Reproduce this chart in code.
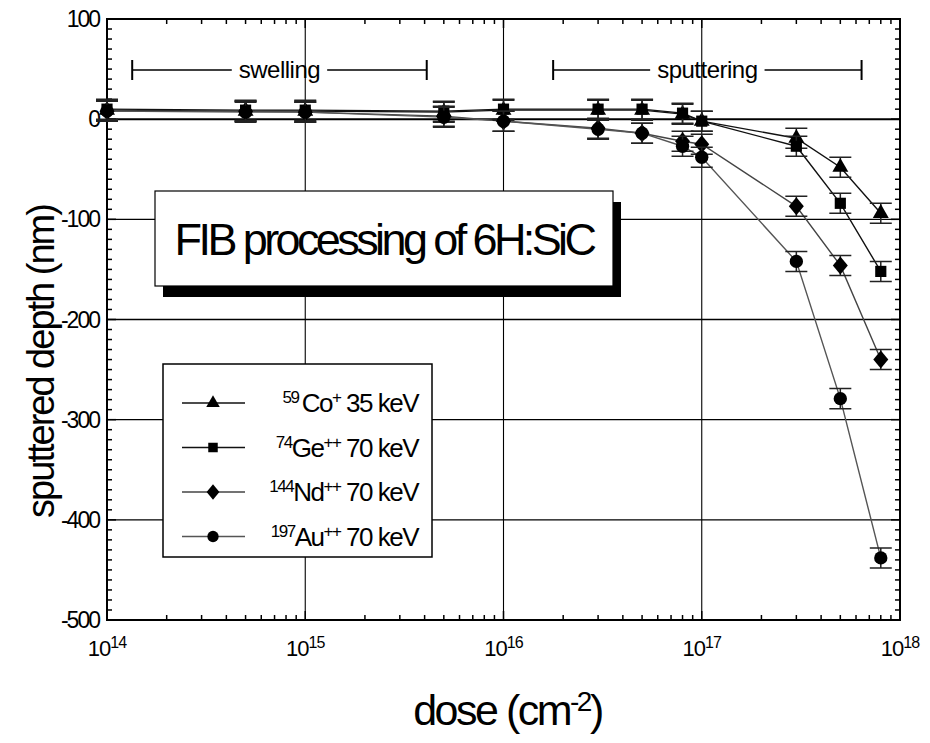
<!DOCTYPE html>
<html>
<head>
<meta charset="utf-8">
<script src="https://cdn.jsdelivr.net/npm/d3@7"></script>
<style>
  body { margin: 0; background: #fff; }
  svg { font-family: 'Liberation Sans', Arial, sans-serif; }
</style>
</head>
<body>
<div id="chart"></div>
<script>
// dose values (cm^-2)
const doses = [1e14, 5e14, 1e15, 5e15, 1e16, 3e16, 5e16, 8e16, 1e17, 3e17, 5e17, 8e17];

// sputtered depth (nm) per ion
const coDepth = [9, 8, 8, 7, 9, 9, 9, 5, -2, -19, -48, -94];
const geDepth = [10, 9, 9, 8, 10, 10, 10, 6, -2, -27, -84, -152];
const ndDepth = [8, 8, 7, 3, -2, -9, -14, -22, -25, -87, -146, -240];
const auDepth = [8, 7, 7, 2, -2, -10, -14, -27, -38, -142, -279, -438];
const depthError = 10;

const yTicks = [100, 0, -100, -200, -300, -400, -500];
const xTicks = [1e14, 1e15, 1e16, 1e17, 1e18];

const series = [
	{ mass: '59', ion: 'Co', charge: '+', energy: '35 keV', values: coDepth, symbol: d3.symbolTriangle, size: 110, lineColor: '#111' },
	{ mass: '74', ion: 'Ge', charge: '++', energy: '70 keV', values: geDepth, symbol: d3.symbolSquare, size: 125, lineColor: '#111' },
	{ mass: '144', ion: 'Nd', charge: '++', energy: '70 keV', values: ndDepth, symbol: 'diamond', size: 0, lineColor: '#444' },
	{ mass: '197', ion: 'Au', charge: '++', energy: '70 keV', values: auDepth, symbol: d3.symbolCircle, size: 140, lineColor: '#555' },
];

const width = 930;
const height = 743;
const margin = { top: 19, right: 30, bottom: 123, left: 107 };

const svg = d3
	.select('#chart')
	.append('svg')
	.attr('width', width)
	.attr('height', height);

const x = d3
	.scaleLog()
	.domain([1e14, 1e18])
	.range([margin.left, width - margin.right]);

const y = d3
	.scaleLinear()
	.domain([-500, 100])
	.range([height - margin.bottom, margin.top]);

const x0 = x.range()[0], x1 = x.range()[1];
const y0 = y.range()[0], y1 = y.range()[1];

// diamond path, a bit taller than wide
function diamond(w, h) {
	return `M0,${-h / 2}L${w / 2},0L0,${h / 2}L${-w / 2},0Z`;
}
function markerPath(s, scale) {
	if (s.symbol === 'diamond') return diamond(15 * scale, 18 * scale);
	return d3.symbol(s.symbol, s.size * scale * scale)();
}

// grid
const grid = svg.append('g').attr('stroke', '#000');
grid
	.selectAll('line.h')
	.data(yTicks.filter((v) => v > -500 && v < 100))
	.join('line')
	.attr('x1', x0)
	.attr('x2', x1)
	.attr('y1', (d) => y(d))
	.attr('y2', (d) => y(d))
	.attr('stroke-width', (d) => (d === 0 ? 2 : 1.3));
grid
	.selectAll('line.v')
	.data(xTicks.slice(1, -1))
	.join('line')
	.attr('x1', (d) => x(d))
	.attr('x2', (d) => x(d))
	.attr('y1', y0)
	.attr('y2', y1)
	.attr('stroke-width', 1.1);

// minor ticks, all four sides, pointing inward
const ticks = svg.append('g').attr('stroke', '#000').attr('stroke-width', 1.5);
const yMinor = d3.range(-500, 101, 10);
[
	[x0, 1],
	[x1, -1],
].forEach(([px, dir]) => {
	ticks
		.append('g')
		.selectAll('line')
		.data(yMinor)
		.join('line')
		.attr('x1', px)
		.attr('x2', (d) => px + dir * (d % 100 === 0 ? 9 : 5))
		.attr('y1', (d) => y(d))
		.attr('y2', (d) => y(d));
});
const xMinor = x.ticks();
[
	[y0, -1],
	[y1, 1],
].forEach(([py, dir]) => {
	ticks
		.append('g')
		.selectAll('line')
		.data(xMinor)
		.join('line')
		.attr('x1', (d) => x(d))
		.attr('x2', (d) => x(d))
		.attr('y1', py)
		.attr('y2', (d) => py + dir * (xTicks.includes(d) ? 9 : 5));
});

// frame
svg
	.append('rect')
	.attr('x', x0)
	.attr('y', y1)
	.attr('width', x1 - x0)
	.attr('height', y0 - y1)
	.attr('fill', 'none')
	.attr('stroke', '#000')
	.attr('stroke-width', 2);

// y tick labels
svg
	.append('g')
	.selectAll('text')
	.data(yTicks)
	.join('text')
	.attr('x', x0 - 8)
	.attr('y', (d) => y(d) + 8)
	.attr('text-anchor', 'end')
	.style('font-size', '23px')
	.style('letter-spacing', '-2px')
	.text((d) => d);

// x tick labels 10^n
const xLab = svg
	.append('g')
	.selectAll('text')
	.data(xTicks)
	.join('text')
	.attr('x', (d) => x(d))
	.attr('y', y0 + 36)
	.attr('text-anchor', 'middle')
	.style('font-size', '22px')
	.style('letter-spacing', '-1px');
xLab.append('tspan').text('10');
xLab
	.append('tspan')
	.attr('dy', -8)
	.style('font-size', '16px')
	.text((d) => Math.round(Math.log10(d)));

// axis titles
const xTitle = svg
	.append('text')
	.attr('x', (x0 + x1) / 2 + 4)
	.attr('y', height - 18)
	.attr('text-anchor', 'middle')
	.style('font-size', '43px')
	.style('letter-spacing', '-2.5px');
xTitle.append('tspan').text('dose (cm');
xTitle.append('tspan').attr('dy', -14).style('font-size', '28px').text('-2');
xTitle.append('tspan').attr('dy', 14).text(')');

svg
	.append('text')
	.attr('transform', `translate(54,${(y0 + y1) / 2 + 42}) rotate(-90)`)
	.attr('text-anchor', 'middle')
	.style('font-size', '38px')
	.style('letter-spacing', '-2px')
	.text('sputtered depth (nm)');

// swelling / sputtering ranges
const ranges = [
	{ label: 'swelling', from: 1.34e14, to: 4.1e15 },
	{ label: 'sputtering', from: 1.78e16, to: 6.4e17 },
];
const rangeY = 70;
ranges.forEach((r) => {
	const g = svg.append('g');
	const a = x(r.from), b = x(r.to);
	const t = g
		.append('text')
		.attr('x', (a + b) / 2)
		.attr('y', rangeY + 8)
		.attr('text-anchor', 'middle')
		.style('font-size', '24px')
		.style('letter-spacing', '-0.5px')
		.text(r.label);
	const w = t.node().getComputedTextLength();
	const c = (a + b) / 2;
	g.append('line').attr('x1', a).attr('x2', c - w / 2 - 7).attr('y1', rangeY).attr('y2', rangeY).attr('stroke', '#000').attr('stroke-width', 1.5);
	g.append('line').attr('x1', c + w / 2 + 7).attr('x2', b).attr('y1', rangeY).attr('y2', rangeY).attr('stroke', '#000').attr('stroke-width', 1.5);
	[a, b].forEach((p) =>
		g.append('line').attr('x1', p).attr('x2', p).attr('y1', rangeY - 10).attr('y2', rangeY + 10).attr('stroke', '#000').attr('stroke-width', 2)
	);
});

// data lines
const line = d3
	.line()
	.x((d, i) => x(doses[i]))
	.y((d) => y(d));
svg
	.append('g')
	.selectAll('path')
	.data(series)
	.join('path')
	.attr('d', (s) => line(s.values))
	.attr('fill', 'none')
	.attr('stroke', (s) => s.lineColor)
	.attr('stroke-width', 1.4);

// error bars + markers
series.forEach((s) => {
	const g = svg.append('g');
	const pts = s.values.map((v, i) => ({ dose: doses[i], v }));
	const capW = 11;
	g.selectAll('path.err')
		.data(pts)
		.join('path')
		.attr('d', (d) => {
			const px = x(d.dose), top = y(d.v + depthError), bot = y(d.v - depthError);
			return `M${px - capW},${top}H${px + capW}M${px - capW},${bot}H${px + capW}M${px},${top}V${bot}`;
		})
		.attr('fill', 'none')
		.attr('stroke', '#222')
		.attr('stroke-width', 1.5);
	g.selectAll('path.mk')
		.data(pts)
		.join('path')
		.attr('transform', (d) => `translate(${x(d.dose)},${y(d.v)})`)
		.attr('d', markerPath(s, 1))
		.attr('fill', '#000');
});

// title box with shadow
const box = { x: 155, y: 191, w: 458, h: 95 };
svg.append('rect').attr('x', box.x + 8).attr('y', box.y + 11).attr('width', box.w).attr('height', box.h).attr('fill', '#000');
svg.append('rect').attr('x', box.x).attr('y', box.y).attr('width', box.w).attr('height', box.h).attr('fill', '#fff').attr('stroke', '#000').attr('stroke-width', 1.2);
svg
	.append('text')
	.attr('x', box.x + box.w / 2)
	.attr('y', box.y + 64)
	.attr('text-anchor', 'middle')
	.style('font-size', '45px')
	.style('letter-spacing', '-3.6px')
	.text('FIB processing of 6H:SiC');

// legend
const leg = { x: 163, y: 364, w: 269, h: 193 };
svg.append('rect').attr('x', leg.x).attr('y', leg.y).attr('width', leg.w).attr('height', leg.h).attr('fill', '#fff').attr('stroke', '#000').attr('stroke-width', 1.5);
const rows = svg
	.append('g')
	.selectAll('g')
	.data(series)
	.join('g')
	.attr('transform', (d, i) => `translate(0,${leg.y + 39 + i * 44.5})`);
rows.append('line').attr('x1', 182).attr('x2', 245).attr('stroke', (d) => d.lineColor).attr('stroke-width', 1.3);
rows.append('path').attr('transform', 'translate(213,0)').attr('d', (d) => markerPath(d, 0.85)).attr('fill', '#000');
const legText = rows
	.append('text')
	.attr('x', 418)
	.attr('y', 9)
	.attr('text-anchor', 'end')
	.style('font-size', '26px')
	.style('letter-spacing', '-1.5px');
legText.append('tspan').attr('dy', -9).style('font-size', '17px').text((d) => d.mass + (d.ion === 'Co' ? ' ' : ''));
legText.append('tspan').attr('dy', 9).text((d) => d.ion);
legText.append('tspan').attr('dy', -9).style('font-size', '17px').text((d) => d.charge);
legText.append('tspan').attr('dy', 9).text((d) => (d.ion === 'Co' ? '  ' : ' ') + d.energy);
</script>
</body>
</html>
